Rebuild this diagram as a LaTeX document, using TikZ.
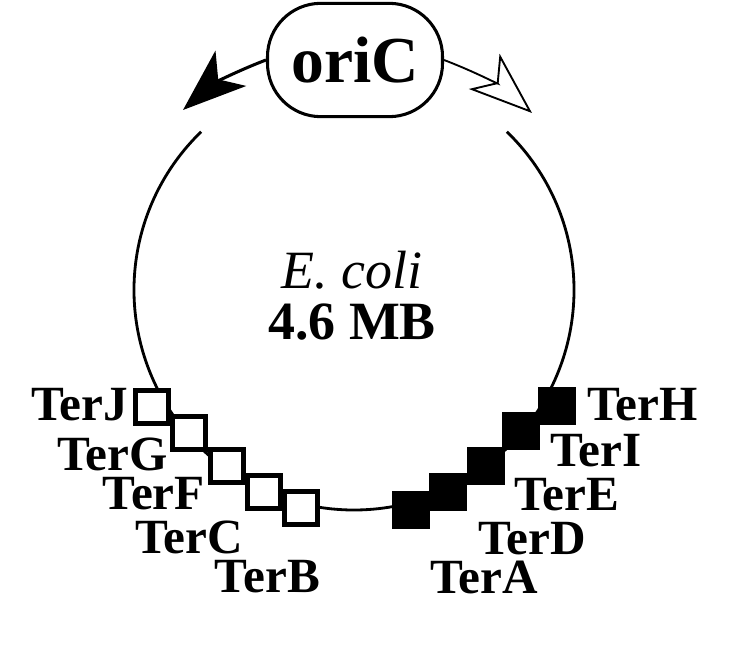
\documentclass[tikz,border=0pt]{standalone}
\usepackage{fontspec}
\setmainfont{Liberation Serif}
\usetikzlibrary{arrows.meta}
\tikzset{
  ter/.style={draw,line width=4pt,minimum size=1cm,inner sep=0pt},
  terlab/.style={font=\fontsize{42}{46}\selectfont\bfseries,inner sep=0pt}
}
\begin{document}
\begin{tikzpicture} [x=.03cm,y=.03cm]
\useasboundingbox (0,0) rectangle (739,645);
%chromosome
        \draw [line width=2.4pt] (354,355)++(46:6.6cm) arc [start angle=46, end angle=-226, radius=6.6cm];
        \node[draw,line width=2.6pt,rounded corners=1.6cm,minimum width=5.25cm,minimum height=3.4cm,font=\fontsize{56}{60}\selectfont\bfseries] (ori) at (355,585) {oriC};
        \coordinate (lt) at (183,535);
        \coordinate (rt) at (532,532);
        \draw [line width=2.6pt,-{Stealth[length=1.9cm,width=1.4cm,inset=0.5cm]}] (ori.west) to[bend right=10] (lt);
        \draw [line width=1.6pt,-{Stealth[open,length=1.9cm,width=1.4cm,inset=0.5cm]}] (ori.east) to[bend left=10] (rt);
        \node[font=\fontsize{46}{50}\selectfont\itshape] (name) at (352,375) {E. coli};
        \node[font=\fontsize{46}{50}\selectfont\bfseries] (size) at (352,323) {4.6 MB};
%open sites
        \node[ter,fill=white] (J) at (152,238) {};
        \node[ter,fill=white] (G) at (189,212) {};
        \node[ter,fill=white] (F) at (227,179) {};
        \node[ter,fill=white] (C) at (264,153) {};
        \node[ter,fill=white] (B) at (301,137) {};
%filled sites
        \node[ter,fill=black] (A) at (411,135) {};
        \node[ter,fill=black] (D) at (448,153) {};
        \node[ter,fill=black] (E) at (486,179) {};
        \node[ter,fill=black] (I) at (521,214) {};
        \node[ter,fill=black] (H) at (557,239) {};
%labels
        \node[terlab,anchor=east] (lJ) at (128,240) {TerJ};
        \node[terlab,anchor=east] (lG) at (168,191) {TerG};
        \node[terlab,anchor=east] (lF) at (205,151) {TerF};
        \node[terlab,anchor=east] (lC) at (243,108) {TerC};
        \node[terlab,anchor=east] (lB) at (320,68) {TerB};
        \node[terlab,anchor=west] (lH) at (587,240) {TerH};
        \node[terlab,anchor=west] (lI) at (550,194) {TerI};
        \node[terlab,anchor=west] (lE) at (514,150) {TerE};
        \node[terlab,anchor=west] (lD) at (478,106) {TerD};
        \node[terlab,anchor=west] (lA) at (430,68) {TerA};
\end{tikzpicture}
\end{document}
